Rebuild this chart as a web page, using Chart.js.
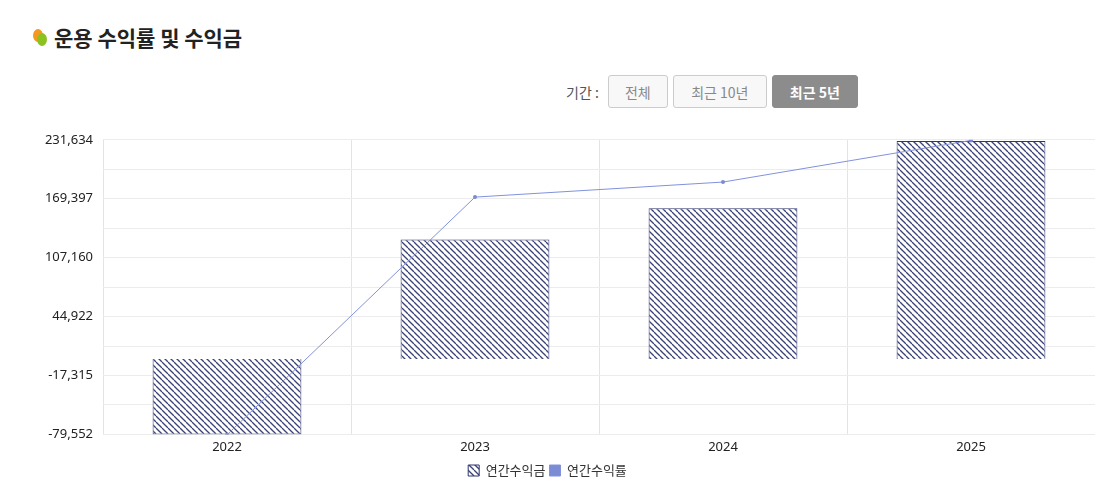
<!DOCTYPE html>
<html><head><meta charset="utf-8">
<script src="https://cdn.jsdelivr.net/npm/chart.js@4"></script>
<style>
body{margin:0;width:1095px;height:499px;background:#fff;font-family:"Noto Sans CJK KR","Noto Sans",sans-serif;position:relative;overflow:hidden}
.title{position:absolute;left:32px;top:22px;font-size:21px;font-weight:700;color:#222;display:flex;align-items:center}
.dot{position:relative;width:18px;height:20px;margin-right:4px}
.dot i{position:absolute;border-radius:50%}
.btns{position:absolute;top:75px;left:566px;display:flex;align-items:center;font-size:14px;color:#555}
.btn{height:33px;box-sizing:border-box;border:1px solid #ccc;border-radius:3px;background:#f8f8f8;color:#888;display:flex;align-items:center;justify-content:center;margin-left:5px;font-size:14px}
.on{background:#8c8c8c;border-color:#8c8c8c;color:#fff;font-weight:700}
#wrap{position:absolute;left:0;top:122px;width:1100px;height:365px}
</style></head><body>
<div class="title"><span class="dot"><i style="left:1px;top:2px;width:10px;height:13px;background:#f39a1e"></i><i style="left:5px;top:6px;width:10px;height:13px;background:#8cc21f"></i></span>운용 수익률 및 수익금</div>
<div class="btns"><span style="margin-right:4px">기간 :</span><div class="btn" style="width:60px">전체</div><div class="btn" style="width:94px">최근 10년</div><div class="btn on" style="width:86px">최근 5년</div></div>
<div id="wrap"><canvas id="c"></canvas></div>
<script>
const years=['2022','2023','2024','2025','2026'];
const annualProfit=[-79552,126400,159300,230400,null];
const annualRate=[-80000,171100,187000,231000,68000];
const yTicks=['-79,552','-17,315','44,922','107,160','169,397','231,634'];
const yMin=-79552,yMax=231634;

const pc=document.createElement('canvas');pc.width=6;pc.height=6;
const px=pc.getContext('2d');px.fillStyle='#fff';px.fillRect(0,0,6,6);
px.strokeStyle='#3a4275';px.lineWidth=1.3;
[-6,0,6].forEach(o=>{px.beginPath();px.moveTo(o,0);px.lineTo(o+6,6);px.stroke();});
const pat=px.createPattern(pc,'repeat');
const step=(yMax-yMin)/10;
const F='"Noto Sans","Noto Sans CJK KR",sans-serif';
new Chart(document.getElementById('c'),{
 data:{labels:years,datasets:[
  {type:'line',label:'연간수익률',data:annualRate,borderColor:'#8292dc',backgroundColor:'#7b8bd4',borderWidth:1,pointRadius:2,pointBackgroundColor:'#7b8bd4',pointBorderWidth:0,order:0},
  {type:'bar',label:'연간수익금',data:annualProfit,backgroundColor:pat,borderColor:'#2e3670',borderWidth:1,barPercentage:0.6,categoryPercentage:1,order:1}
 ]},
 options:{responsive:true,maintainAspectRatio:false,animation:false,
  layout:{padding:{top:8,right:5,bottom:0}},
  plugins:{tooltip:{enabled:false},legend:{position:'bottom',labels:{boxWidth:11,boxHeight:11,padding:4,color:'#333',font:{size:13,family:'"Noto Sans CJK KR"'}},reverse:true}},
  scales:{
   x:{max:'2025',grid:{color:'#e4e4e4',offset:true,drawTicks:false},border:{display:false},ticks:{color:'#222',font:{size:13,family:F},padding:5}},
   y:{min:yMin,max:yMax,afterFit:s=>{s.width=103},afterBuildTicks:s=>{s.ticks=[];for(let i=0;i<=10;i++)s.ticks.push({value:yMin+i*step});},
      grid:{color:'#ececec',drawTicks:false},border:{display:false},
      ticks:{color:'#222',font:{size:13,family:F},padding:10,callback:(v,i)=>i%2===0?yTicks[i/2]:''}}
  }}
});
</script></body></html>
